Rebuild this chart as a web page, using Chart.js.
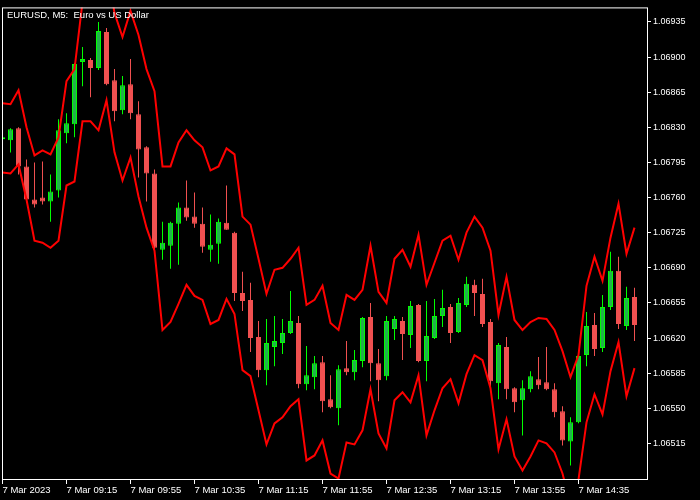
<!DOCTYPE html>
<html>
<head>
<meta charset="utf-8">
<script src="https://cdn.jsdelivr.net/npm/chart.js@4/dist/chart.umd.min.js"></script>
<style>
  body { margin: 0; background: #000; }
  canvas { display: block; }
</style>
</head>
<body>
<canvas id="chart" width="700" height="500"></canvas>
<script>
// EURUSD M5, 7 Mar 2023, from bar -1 (08:35) to bar 78 (15:10)
const firstBar = -1;
const open = [1.06818, 1.06817, 1.06829, 1.06791, 1.06758, 1.06760, 1.06756, 1.06767, 1.06824, 1.06833,
    1.06895, 1.06897, 1.06889, 1.06925, 1.06877, 1.06847, 1.06873, 1.06843, 1.06810, 1.06784,
    1.06708, 1.06712, 1.06734, 1.06750, 1.06741, 1.06734, 1.06708, 1.06714, 1.06735, 1.06725,
    1.06665, 1.06658, 1.06621, 1.06588, 1.06611, 1.06615, 1.06625, 1.06635, 1.06574, 1.06581,
    1.06596, 1.06559, 1.06550, 1.06590, 1.06586, 1.06597, 1.06641, 1.06595, 1.06582, 1.06629,
    1.06637, 1.06623, 1.06653, 1.06597, 1.06620, 1.06642, 1.06651, 1.06626, 1.06653, 1.06673,
    1.06664, 1.06636, 1.06575, 1.06611, 1.06570, 1.06558, 1.06569, 1.06579, 1.06576, 1.06569,
    1.06547, 1.06517, 1.06536, 1.06603, 1.06633, 1.06610, 1.06651, 1.06687, 1.06632, 1.06661];
const high = [1.06821, 1.06829, 1.06830, 1.06798, 1.06795, 1.06796, 1.06783, 1.06838, 1.06844, 1.06894,
    1.06910, 1.06899, 1.06935, 1.06929, 1.06888, 1.06881, 1.06898, 1.06856, 1.06811, 1.06788,
    1.06736, 1.06736, 1.06755, 1.06777, 1.06765, 1.06750, 1.06743, 1.06739, 1.06772, 1.06726,
    1.06686, 1.06675, 1.06637, 1.06639, 1.06642, 1.06639, 1.06667, 1.06642, 1.06612, 1.06602,
    1.06602, 1.06583, 1.06593, 1.06617, 1.06608, 1.06641, 1.06655, 1.06609, 1.06642, 1.06642,
    1.06641, 1.06657, 1.06654, 1.06657, 1.06659, 1.06668, 1.06654, 1.06660, 1.06681, 1.06678,
    1.06679, 1.06639, 1.06615, 1.06621, 1.06571, 1.06578, 1.06587, 1.06601, 1.06611, 1.06575,
    1.06552, 1.06541, 1.06603, 1.06646, 1.06645, 1.06663, 1.06706, 1.06701, 1.06671, 1.06670];
const low = [1.06816, 1.06805, 1.06783, 1.06755, 1.06750, 1.06753, 1.06736, 1.06760, 1.06814, 1.06820,
    1.06871, 1.06860, 1.06887, 1.06872, 1.06836, 1.06843, 1.06838, 1.06780, 1.06756, 1.06705,
    1.06698, 1.06689, 1.06693, 1.06737, 1.06730, 1.06705, 1.06696, 1.06694, 1.06728, 1.06657,
    1.06647, 1.06606, 1.06581, 1.06573, 1.06592, 1.06604, 1.06624, 1.06570, 1.06568, 1.06569,
    1.06546, 1.06550, 1.06533, 1.06583, 1.06578, 1.06591, 1.06577, 1.06557, 1.06578, 1.06618,
    1.06598, 1.06610, 1.06596, 1.06577, 1.06619, 1.06631, 1.06615, 1.06625, 1.06651, 1.06642,
    1.06631, 1.06571, 1.06559, 1.06559, 1.06546, 1.06523, 1.06566, 1.06569, 1.06568, 1.06541,
    1.06513, 1.06493, 1.06535, 1.06592, 1.06602, 1.06606, 1.06648, 1.06629, 1.06628, 1.06617];
const close = [1.06820, 1.06828, 1.06791, 1.06758, 1.06753, 1.06756, 1.06766, 1.06827, 1.06834, 1.06893,
    1.06898, 1.06889, 1.06926, 1.06873, 1.06846, 1.06872, 1.06844, 1.06808, 1.06784, 1.06710,
    1.06715, 1.06735, 1.06750, 1.06740, 1.06734, 1.06711, 1.06713, 1.06736, 1.06728, 1.06665,
    1.06657, 1.06620, 1.06588, 1.06615, 1.06617, 1.06625, 1.06637, 1.06574, 1.06583, 1.06595,
    1.06557, 1.06551, 1.06589, 1.06586, 1.06598, 1.06640, 1.06595, 1.06578, 1.06637, 1.06639,
    1.06624, 1.06652, 1.06597, 1.06622, 1.06642, 1.06650, 1.06625, 1.06655, 1.06674, 1.06665,
    1.06634, 1.06577, 1.06613, 1.06569, 1.06556, 1.06570, 1.06582, 1.06573, 1.06569, 1.06546,
    1.06518, 1.06536, 1.06602, 1.06632, 1.06609, 1.06651, 1.06687, 1.06634, 1.06660, 1.06633];

// band indicator
const upper = [1.06854, 1.06853, 1.06867, 1.06830, 1.06802, 1.06807, 1.06803, 1.06820, 1.06876, 1.06888,
    1.06955, 1.06961, 1.06956, 1.06991, 1.06944, 1.06920, 1.06946, 1.06922, 1.06888, 1.06866,
    1.06791, 1.06791, 1.06815, 1.06827, 1.06817, 1.06810, 1.06787, 1.06791, 1.06809, 1.06803,
    1.06741, 1.06733, 1.06699, 1.06664, 1.06688, 1.06690, 1.06699, 1.06710, 1.06653, 1.06658,
    1.06672, 1.06635, 1.06628, 1.06663, 1.06658, 1.06668, 1.06712, 1.06666, 1.06655, 1.06699,
    1.06708, 1.06691, 1.06723, 1.06673, 1.06695, 1.06717, 1.06722, 1.06698, 1.06725, 1.06741,
    1.06730, 1.06707, 1.06643, 1.06681, 1.06638, 1.06628, 1.06636, 1.06640, 1.06639, 1.06628,
    1.06607, 1.06581, 1.06603, 1.06672, 1.06701, 1.06677, 1.06720, 1.06754, 1.06704, 1.06730];
const lower = [1.06785, 1.06784, 1.06793, 1.06758, 1.06717, 1.06715, 1.06710, 1.06717, 1.06772, 1.06776,
    1.06836, 1.06836, 1.06827, 1.06857, 1.06805, 1.06777, 1.06800, 1.06761, 1.06730, 1.06707,
    1.06628, 1.06636, 1.06654, 1.06673, 1.06662, 1.06658, 1.06634, 1.06638, 1.06659, 1.06644,
    1.06588, 1.06582, 1.06548, 1.06514, 1.06535, 1.06541, 1.06552, 1.06559, 1.06498, 1.06503,
    1.06518, 1.06485, 1.06480, 1.06516, 1.06514, 1.06528, 1.06569, 1.06525, 1.06510, 1.06558,
    1.06566, 1.06556, 1.06583, 1.06523, 1.06548, 1.06570, 1.06579, 1.06555, 1.06584, 1.06603,
    1.06598, 1.06570, 1.06509, 1.06539, 1.06502, 1.06488, 1.06502, 1.06518, 1.06515, 1.06506,
    1.06485, 1.06454, 1.06479, 1.06536, 1.06564, 1.06544, 1.06587, 1.06616, 1.06562, 1.06590];

const timeTicks = [-1, 7, 15, 23, 31, 39, 47, 55, 63, 71];
const timeLabels = ['7 Mar 2023', '7 Mar 09:15', '7 Mar 09:55', '7 Mar 10:35', '7 Mar 11:15',
    '7 Mar 11:55', '7 Mar 12:35', '7 Mar 13:15', '7 Mar 13:55', '7 Mar 14:35'];
const priceTicks = [1.06515, 1.06550, 1.06585, 1.06620, 1.06655, 1.06690, 1.06725,
    1.06760, 1.06795, 1.06830, 1.06865, 1.06900, 1.06935];
const title = 'EURUSD, M5:  Euro vs US Dollar';

const bullFill = '#22b04c';
const bullLine = '#00ff00';
const bearColor = '#f05050';

const isBull = open.map((o, i) => close[i] >= o);
const barX = i => firstBar + i;

const frame = {
    id: 'frame',
    afterDraw(chart) {
        const { ctx, chartArea: a } = chart;
        ctx.save();
        ctx.strokeStyle = '#ffffff';
        ctx.lineWidth = 1;
        ctx.strokeRect(a.left + 0.5, a.top + 0.5, a.right - a.left - 1, a.bottom - a.top - 1);
        ctx.fillStyle = '#ffffff';
        ctx.font = '9.5px "Liberation Sans"';
        ctx.textBaseline = 'alphabetic';
        ctx.fillText(title, a.left + 5, a.top + 11);
        ctx.restore();
    }
};

new Chart(document.getElementById('chart'), {
    type: 'bar',
    data: {
        datasets: [
            {
                type: 'line',
                data: upper.map((v, i) => ({ x: barX(i), y: v })),
                borderColor: '#ff0000',
                borderWidth: 2,
                pointRadius: 0,
                tension: 0,
                order: 0
            },
            {
                type: 'line',
                data: lower.map((v, i) => ({ x: barX(i), y: v })),
                borderColor: '#ff0000',
                borderWidth: 2,
                pointRadius: 0,
                tension: 0,
                order: 0
            },
            {
                data: open.map((o, i) => ({ x: barX(i), y: [o, close[i]] })),
                backgroundColor: isBull.map(b => b ? bullFill : bearColor),
                borderColor: isBull.map(b => b ? bullLine : bearColor),
                borderWidth: 1,
                borderSkipped: false,
                barThickness: 5,
                minBarLength: 1,
                inflateAmount: 0,
                order: 1
            },
            {
                data: low.map((l, i) => ({ x: barX(i), y: [l, high[i]] })),
                backgroundColor: isBull.map(b => b ? bullLine : bearColor),
                borderWidth: 0,
                barThickness: 1,
                inflateAmount: 0,
                order: 2
            }
        ]
    },
    options: {
        responsive: false,
        animation: false,
        events: [],
        layout: { padding: { left: 2, top: 2, right: 0, bottom: 0 } },
        datasets: { bar: { grouped: false } },
        plugins: {
            legend: { display: false },
            tooltip: { enabled: false }
        },
        scales: {
            x: {
                type: 'linear',
                offset: false,
                min: -1.0625,
                max: 79.6875,
                grid: { display: true, drawOnChartArea: false, offset: false, color: '#ffffff', tickLength: 4 },
                border: { display: false },
                afterBuildTicks: s => { s.ticks = timeTicks.map(v => ({ value: v })); },
                afterFit: s => { s.height = 20; },
                ticks: {
                    autoSkip: false,
                    maxRotation: 0,
                    align: 'start',
                    padding: 1,
                    color: '#ffffff',
                    font: { family: 'Liberation Sans', size: 9.5 },
                    callback: v => timeLabels[timeTicks.indexOf(v)]
                }
            },
            y: {
                position: 'right',
                min: 1.0647854,
                max: 1.0694948,
                grid: { display: true, drawOnChartArea: false, color: '#ffffff', tickLength: 3 },
                border: { display: false },
                afterBuildTicks: s => { s.ticks = priceTicks.map(v => ({ value: v })); },
                afterFit: s => { s.width = 52; },
                ticks: {
                    padding: 2,
                    color: '#ffffff',
                    font: { family: 'Liberation Sans', size: 9 },
                    callback: v => v.toFixed(5)
                }
            }
        }
    },
    plugins: [frame]
});
</script>
</body>
</html>
